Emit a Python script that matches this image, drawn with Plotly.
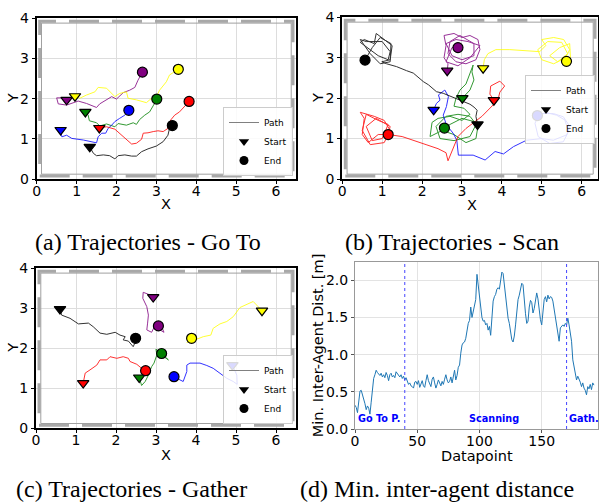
import plotly.graph_objects as go

# The page body margin is removed in the written page (post_script), so figure pixels = page pixels.
PAGE_W, PAGE_H = 599, 503
OFF = 0
W, H = PAGE_W - OFF, PAGE_H - OFF

# ---------------- DATA ----------------
COLORS = ["purple", "yellow", "green", "blue", "red", "black"]

# (a) Go To : paths per agent (x list, y list); first point = start, last point = end
goto_purple_x = [0.75, 0.63, 0.50, 0.54, 0.75, 1.04, 1.25, 1.50, 1.58, 1.75, 1.88, 2.00, 2.17, 2.33, 2.46, 2.54, 2.65]
goto_purple_y = [1.97, 2.02, 2.02, 1.87, 1.84, 1.94, 1.88, 1.78, 1.87, 1.97, 2.05, 1.99, 2.15, 2.21, 2.28, 2.46, 2.66]
goto_yellow_x = [0.96, 1.08, 1.25, 1.46, 1.54, 1.75, 1.96, 2.08, 2.25, 2.29, 2.50, 2.75, 2.88, 3.00, 3.08, 3.25, 3.33, 3.46, 3.55]
goto_yellow_y = [2.06, 2.01, 2.09, 2.17, 2.28, 2.26, 2.05, 2.13, 2.17, 2.01, 1.97, 1.90, 2.01, 2.05, 2.21, 2.42, 2.59, 2.67, 2.73]
goto_green_x = [1.22, 1.29, 1.32, 1.50, 1.58, 1.75, 1.96, 2.04, 2.25, 2.42, 2.50, 2.58, 2.71, 2.83, 2.93, 3.01]
goto_green_y = [1.67, 1.59, 1.45, 1.40, 1.32, 1.37, 1.30, 1.38, 1.34, 1.40, 1.36, 1.48, 1.59, 1.67, 1.84, 1.99]
goto_blue_x = [0.60, 0.63, 0.75, 0.88, 1.17, 1.50, 1.54, 1.63, 1.73, 1.79, 1.88, 1.96, 2.08, 2.21, 2.31]
goto_blue_y = [1.22, 1.05, 1.09, 1.01, 0.97, 0.90, 1.05, 1.14, 1.14, 1.26, 1.34, 1.43, 1.51, 1.59, 1.71]
goto_red_x = [1.57, 1.75, 1.96, 2.13, 2.25, 2.38, 2.50, 2.63, 2.67, 2.79, 2.92, 3.04, 3.17, 3.29, 3.36, 3.46, 3.58, 3.71, 3.82]
goto_red_y = [1.27, 1.30, 1.24, 1.09, 0.97, 0.87, 0.89, 0.99, 1.14, 1.15, 1.18, 1.20, 1.18, 1.26, 1.47, 1.59, 1.67, 1.80, 1.93]
goto_black_x = [1.33, 1.42, 1.50, 1.67, 1.83, 1.96, 2.04, 2.21, 2.38, 2.50, 2.63, 2.79, 3.00, 3.17, 3.29, 3.33, 3.40]
goto_black_y = [0.80, 0.64, 0.58, 0.60, 0.58, 0.50, 0.58, 0.60, 0.57, 0.57, 0.68, 0.75, 0.82, 0.93, 1.09, 1.26, 1.33]

# (b) Scan
scan_purple_x = [2.63, 2.65, 2.55, 2.60, 2.55, 2.80, 3.00, 3.20, 3.40, 3.45, 3.35, 3.10, 2.85, 2.65, 2.70, 2.95, 3.30, 3.30, 3.00, 2.75, 2.60, 2.85, 3.15, 3.45, 3.20, 2.90, 2.60, 2.75, 2.90]
scan_purple_y = [2.68, 2.85, 3.00, 3.30, 3.55, 3.60, 3.50, 3.55, 3.45, 3.20, 2.95, 2.85, 2.90, 3.10, 3.40, 3.55, 3.35, 3.05, 2.95, 3.05, 3.35, 3.45, 3.40, 3.30, 3.00, 2.80, 2.90, 3.25, 3.25]
scan_yellow_x = [3.53, 3.56, 3.65, 3.85, 4.20, 4.60, 4.95, 5.10, 5.00, 5.30, 5.55, 5.70, 5.60, 5.30, 5.00, 4.90, 5.15, 5.50, 5.65, 5.40, 5.20, 5.45, 5.70, 5.72, 5.62]
scan_yellow_y = [2.74, 2.95, 3.10, 3.20, 3.20, 3.18, 3.15, 3.30, 3.45, 3.50, 3.45, 3.20, 3.00, 2.85, 2.95, 3.20, 3.40, 3.38, 3.10, 2.90, 3.05, 3.25, 3.35, 3.00, 2.91]
scan_green_x = [3.01, 3.20, 3.30, 3.25, 3.28, 3.20, 3.10, 2.95, 2.85, 2.80, 3.05, 3.20, 3.00, 2.70, 2.40, 2.25, 2.20, 2.50, 2.80, 3.10, 3.35, 3.40, 3.20, 2.90, 2.60, 2.35, 2.45, 2.80, 3.20, 3.38, 3.00, 2.70, 2.56]
scan_green_y = [2.00, 2.20, 2.45, 2.65, 2.82, 2.60, 2.35, 2.20, 2.00, 1.80, 1.75, 1.60, 1.45, 1.55, 1.50, 1.40, 1.05, 1.20, 1.10, 0.90, 1.00, 1.30, 1.55, 1.60, 1.55, 1.30, 1.00, 0.95, 1.05, 1.40, 1.50, 1.35, 1.26]
scan_blue_x = [2.29, 2.36, 2.45, 2.41, 2.57, 2.66, 2.61, 2.53, 2.61, 2.78, 2.87, 2.91, 3.28, 3.58, 3.83, 4.04, 4.29, 4.62, 5.00, 5.29, 5.62, 5.71, 5.54, 5.29, 4.95, 4.83, 4.91, 5.20, 5.54, 5.67, 5.58, 5.37, 5.12, 4.89]
scan_blue_y = [1.71, 1.87, 1.95, 2.08, 2.20, 2.04, 1.79, 1.58, 1.34, 1.13, 0.96, 0.59, 0.59, 0.47, 0.68, 0.62, 0.80, 0.96, 1.00, 0.96, 1.09, 1.29, 1.54, 1.62, 1.62, 1.38, 1.05, 0.88, 0.92, 1.17, 1.46, 1.58, 1.64, 1.57]
scan_red_x = [3.80, 3.70, 3.72, 3.95, 4.07, 3.95, 3.90, 3.70, 3.50, 3.30, 3.10, 2.90, 2.75, 2.65, 2.60, 2.40, 2.10, 1.80, 1.50, 1.15, 0.90, 0.65, 0.50, 0.55, 0.45, 0.80, 1.05, 1.20, 1.05, 0.70, 0.50, 0.60, 0.90, 1.15, 1.00, 0.75, 0.60, 0.85, 1.20, 1.15]
scan_red_y = [1.95, 2.10, 2.30, 2.42, 2.30, 2.15, 1.95, 1.75, 1.55, 1.40, 1.25, 1.05, 0.70, 0.45, 0.65, 0.75, 0.85, 0.95, 1.05, 1.10, 1.10, 0.90, 1.10, 1.50, 1.65, 1.55, 1.45, 1.20, 0.90, 0.85, 1.20, 1.60, 1.45, 1.35, 1.00, 0.95, 1.30, 1.50, 1.30, 1.10]
scan_black_x = [3.39, 3.35, 3.38, 3.30, 3.20, 2.95, 2.74, 2.53, 2.36, 2.16, 2.03, 1.78, 1.61, 1.36, 1.11, 0.99, 1.20, 1.25, 1.05, 0.85, 0.80, 0.55, 0.45, 0.70, 0.90, 1.15, 1.20, 1.00, 0.60, 0.45, 0.70, 0.95, 1.20, 1.22, 0.95, 0.75, 0.57]
scan_black_y = [1.35, 1.55, 1.70, 1.78, 1.85, 1.95, 2.04, 2.12, 2.16, 2.33, 2.41, 2.62, 2.68, 2.78, 2.85, 2.90, 2.95, 3.30, 3.45, 3.60, 3.35, 3.45, 3.38, 3.20, 3.05, 2.95, 3.15, 3.40, 3.40, 3.45, 3.10, 2.85, 2.90, 3.35, 3.50, 3.25, 2.94]

# (c) Gather
gather_purple_x = [2.93, 2.81, 2.68, 2.67, 2.77, 2.81, 2.79, 2.77, 2.89, 2.95, 3.10, 3.20, 3.14, 3.06]
gather_purple_y = [3.28, 3.35, 3.40, 3.25, 3.04, 2.83, 2.63, 2.46, 2.40, 2.52, 2.46, 2.40, 2.54, 2.56]
gather_yellow_x = [5.65, 5.43, 5.10, 4.93, 4.77, 4.60, 4.43, 4.37, 4.18, 4.10, 3.98, 3.77, 3.89]
gather_yellow_y = [2.94, 3.17, 3.02, 2.79, 2.67, 2.61, 2.50, 2.33, 2.29, 2.25, 2.21, 2.15, 2.25]
gather_green_x = [2.58, 2.64, 2.73, 2.81, 2.89, 2.95, 3.02, 3.00, 3.14, 3.31, 3.14]
gather_green_y = [1.27, 1.07, 1.17, 1.33, 1.54, 1.63, 1.83, 1.98, 1.83, 1.71, 1.87]
gather_blue_x = [4.91, 5.02, 5.03, 4.93, 4.77, 4.60, 4.43, 4.27, 4.10, 3.85, 3.77, 3.77, 3.68, 3.60, 3.52, 3.45]
gather_blue_y = [1.58, 1.33, 1.10, 1.17, 1.25, 1.38, 1.50, 1.57, 1.63, 1.63, 1.58, 1.42, 1.17, 1.21, 1.25, 1.29]
gather_red_x = [1.18, 1.23, 1.35, 1.52, 1.60, 1.77, 1.85, 2.02, 2.18, 2.31, 2.35, 2.52, 2.64, 2.74]
gather_red_y = [1.13, 1.38, 1.46, 1.58, 1.71, 1.71, 1.79, 1.75, 1.79, 1.75, 1.67, 1.60, 1.50, 1.44]
gather_black_x = [0.60, 0.64, 0.85, 1.06, 1.31, 1.43, 1.60, 1.77, 1.98, 2.10, 2.23, 2.18, 2.31, 2.43, 2.48, 2.49]
gather_black_y = [2.98, 2.83, 2.75, 2.61, 2.63, 2.54, 2.38, 2.35, 2.40, 2.33, 2.29, 2.21, 2.18, 2.04, 2.15, 2.25]

# (d) Min inter-agent distance per datapoint
min_dist = [
    0.32, 0.29, 0.22, 0.42, 0.51, 0.52, 0.47, 0.40, 0.34, 0.26,
    0.31, 0.28, 0.20, 0.36, 0.58, 0.68, 0.73, 0.79, 0.76, 0.73,
    0.72, 0.75, 0.70, 0.73, 0.69, 0.76, 0.72, 0.65, 0.73, 0.75,
    0.70, 0.72, 0.69, 0.77, 0.74, 0.71, 0.70, 0.73, 0.68, 0.71,
    0.66, 0.69, 0.63, 0.60, 0.62, 0.58, 0.57, 0.55, 0.63, 0.64,
    0.60, 0.65, 0.56, 0.60, 0.65, 0.58, 0.56, 0.65, 0.73, 0.65,
    0.60, 0.57, 0.67, 0.70, 0.62, 0.55, 0.60, 0.66, 0.62, 0.58,
    0.64, 0.60, 0.67, 0.73, 0.66, 0.62, 0.64, 0.70, 0.62, 0.69,
    0.79, 0.66, 0.72, 0.83, 0.86, 1.02, 1.13, 1.16, 1.17, 1.22,
    1.35, 1.42, 1.46, 1.64, 1.50, 1.57, 1.63, 1.74, 2.08, 1.95,
    1.80, 1.67, 1.50, 1.45, 1.46, 1.40, 1.42, 1.33, 1.38, 1.26,
    1.45, 1.72, 1.78, 1.81, 1.88, 1.90, 1.88, 2.04, 2.11, 2.09,
    1.94, 1.72, 1.56, 1.49, 1.42, 1.30, 1.20, 1.17, 1.25, 1.40,
    1.60, 1.74, 1.80, 1.88, 1.96, 1.94, 1.70, 1.55, 1.42, 1.45,
    1.64, 1.73, 1.70, 1.56, 1.62, 1.76, 1.83, 1.75, 1.58, 1.47,
    1.40, 1.62, 1.74, 1.78, 1.71, 1.80, 1.75, 1.78, 1.77, 1.72,
    1.60, 1.50, 1.35, 1.25, 1.18, 1.36, 1.38, 1.40, 1.38, 1.42,
    1.40, 1.49, 1.40, 1.31, 1.18, 0.93, 0.84, 0.75, 0.66, 0.71,
    0.68, 0.63, 0.57, 0.62, 0.55, 0.52, 0.46, 0.57, 0.54, 0.60,
    0.53, 0.62, 0.59,
]
phase_bounds = [40, 170]
phase_labels = ["Go To P.", "Scanning", "Gath."]
phase_label_x = [2, 112, 170.8]
phase_label_anchor = ["left", "center", "left"]

captions = ["(a) Trajectories - Go To", "(b) Trajectories - Scan",
            "(c) Trajectories - Gather", "(d) Min. inter-agent distance"]
x_titles = ["X", "X", "X", "Datapoint"]
y_titles = ["Y", "Y", "Y", "Min. Inter-Agent Dist. [m]"]

goto_paths = {c: (globals()[f"goto_{c}_x"], globals()[f"goto_{c}_y"]) for c in COLORS}
scan_paths = {c: (globals()[f"scan_{c}_x"], globals()[f"scan_{c}_y"]) for c in COLORS}
gather_paths = {c: (globals()[f"gather_{c}_x"], globals()[f"gather_{c}_y"]) for c in COLORS}

# ---------------- LAYOUT HELPERS (page pixels -> paper fractions) ----------------
def fx(px):
    return (px - OFF) / W

def fy(py):
    return 1 - (py - OFF) / H

def px_dom_x(a, b):
    return [fx(a), fx(b)]

def px_dom_y(top, bottom):
    return [fy(bottom), fy(top)]

panels = {
    "a": dict(xd=px_dom_x(36.7, 296), yd=px_dom_y(18.3, 179), xr=[0, 6.5]),
    "b": dict(xd=px_dom_x(342.3, 598), yd=px_dom_y(17.3, 179), xr=[0, 6.41]),
    "c": dict(xd=px_dom_x(36, 296), yd=px_dom_y(268.3, 428.3), xr=[0, 6.5]),
}

fig = go.Figure()
TICKFONT = dict(family="DejaVu Sans", size=14, color="black")
TITLEFONT = dict(family="DejaVu Sans", size=14.5, color="black")

def add_traj(paths, xa, ya, legend):
    for c, (xs, ys) in paths.items():
        fig.add_trace(go.Scatter(x=xs, y=ys, mode="lines", xaxis=xa, yaxis=ya,
                                 line=dict(color=c, width=1), opacity=0.8,
                                 showlegend=False, hoverinfo="skip"))
    for c, (xs, ys) in paths.items():
        fig.add_trace(go.Scatter(x=[xs[0]], y=[ys[0]], mode="markers", xaxis=xa, yaxis=ya,
                                 marker=dict(symbol="triangle-down", size=10, color=c,
                                             line=dict(color="black", width=1.2)),
                                 showlegend=False))
        fig.add_trace(go.Scatter(x=[xs[-1]], y=[ys[-1]], mode="markers", xaxis=xa, yaxis=ya,
                                 marker=dict(symbol="circle", size=10, color=c,
                                             line=dict(color="black", width=1.2)),
                                 showlegend=False))
    # legend entries
    fig.add_trace(go.Scatter(x=[None], y=[None], mode="lines", xaxis=xa, yaxis=ya,
                             line=dict(color="gray", width=1), name="Path", legend=legend))
    fig.add_trace(go.Scatter(x=[None], y=[None], mode="markers", xaxis=xa, yaxis=ya,
                             marker=dict(symbol="triangle-down", size=9, color="black"),
                             name="Start", legend=legend))
    fig.add_trace(go.Scatter(x=[None], y=[None], mode="markers", xaxis=xa, yaxis=ya,
                             marker=dict(symbol="circle", size=9, color="black"),
                             name="End", legend=legend))

add_traj(goto_paths, "x", "y", "legend")
add_traj(scan_paths, "x2", "y2", "legend2")
add_traj(gather_paths, "x3", "y3", "legend3")

# panel d
fig.add_trace(go.Scatter(x=list(range(len(min_dist))), y=min_dist, mode="lines",
                         xaxis="x4", yaxis="y4", line=dict(color="#1f77b4", width=1),
                         showlegend=False))

layout = dict(width=W, height=H, margin=dict(l=0, r=0, t=0, b=0, autoexpand=False),
              plot_bgcolor="white", paper_bgcolor="white", showlegend=True)

traj_axes = [("a", "xaxis", "yaxis", "x", "y"),
             ("b", "xaxis2", "yaxis2", "x2", "y2"),
             ("c", "xaxis3", "yaxis3", "x3", "y3")]
shapes = []
for key, xk, yk, xr_, yr_ in traj_axes:
    p = panels[key]
    layout[xk] = dict(domain=p["xd"], range=p["xr"], anchor=yr_, tickvals=[0, 1, 2, 3, 4, 5, 6],
                      showline=True, linecolor="black", linewidth=2, mirror=True,
                      ticks="outside", ticklen=3, tickcolor="black", tickfont=TICKFONT,
                      ticklabelstandoff=-5,
                      showgrid=True, gridcolor="#dddddd", gridwidth=1, zeroline=False,
                      automargin=False)
    layout[yk] = dict(domain=p["yd"], range=[0, 4], anchor=xr_, tickvals=[0, 1, 2, 3, 4],
                      showline=True, linecolor="black", linewidth=2, mirror=True,
                      ticks="outside", ticklen=3, tickcolor="black", tickfont=TICKFONT,
                      showgrid=True, gridcolor="#dddddd", gridwidth=1, zeroline=False,
                      automargin=False)
    xmax = p["xr"][1]
    for inset, width, dash, col in [(0.075, 3, "30px,13px", "#a8a8a8"), (0.12, 1, "solid", "#a0a0a0")]:
        shapes.append(dict(type="rect", xref=xr_, yref=yr_, x0=inset, x1=xmax - inset,
                           y0=inset, y1=4 - inset, line=dict(color=col, width=width, dash=dash),
                           layer="above"))

layout["xaxis4"] = dict(domain=px_dom_x(355, 597.7), range=[0, 195], anchor="y4",
                        tickvals=[0, 50, 100, 150], showline=True, linecolor="#999999",
                        linewidth=1, mirror=True, ticks="outside", ticklen=3, tickcolor="#555",
                        tickfont=TICKFONT, ticklabelstandoff=-4,
                        showgrid=True, gridcolor="#e3e3e3", zeroline=False,
                        automargin=False)
layout["yaxis4"] = dict(domain=px_dom_y(261.7, 429), range=[0, 2.25], anchor="x4",
                        tickvals=[0, 0.5, 1.0, 1.5, 2.0], ticktext=["0.0", "0.5", "1.0", "1.5", "2.0"],
                        showline=True, linecolor="#999999", linewidth=1, mirror=True,
                        ticks="outside", ticklen=3, tickcolor="#555", tickfont=TICKFONT,
                        showgrid=True, gridcolor="#e3e3e3", zeroline=False,
                        automargin=False)

for b in phase_bounds:
    shapes.append(dict(type="line", xref="x4", yref="y4 domain", x0=b, x1=b, y0=0, y1=1,
                       line=dict(color="#4444ff", width=1, dash="dot")))
layout["shapes"] = shapes

annotations = []
for t, xv, anc in zip(phase_labels, phase_label_x, phase_label_anchor):
    annotations.append(dict(text="<b>%s</b>" % t, x=xv, y=0.14, xref="x4", yref="y4",
                            xanchor=anc, yanchor="middle", showarrow=False, borderpad=0,
                            font=dict(family="DejaVu Sans", size=9.7, color="blue")))
cap_pos = [(148, 242), (452, 242), (131, 489), (437, 489)]
for t, (cx, cy) in zip(captions, cap_pos):
    annotations.append(dict(text=t, x=fx(cx), y=fy(cy), xref="paper", yref="paper",
                            xanchor="center", yanchor="middle", showarrow=False,
                            font=dict(family="Liberation Serif", size=24, color="black")))
# axis titles (placed as text in page positions)
xt_pos = [(166, 204), (471.5, 205), (166, 455), (476.5, 456)]
yt_pos = [(13.3, 98), (318, 98), (12.7, 348), (318.3, 345)]
for t, (cx, cy) in zip(x_titles, xt_pos):
    annotations.append(dict(text=t, x=fx(cx), y=fy(cy), xref="paper", yref="paper",
                            xanchor="center", yanchor="middle", showarrow=False, font=TITLEFONT))
for t, (cx, cy) in zip(y_titles, yt_pos):
    annotations.append(dict(text=t, x=fx(cx), y=fy(cy), xref="paper", yref="paper",
                            xanchor="center", yanchor="middle", showarrow=False,
                            textangle=-90, font=TITLEFONT))
layout["annotations"] = annotations

legend_common = dict(font=dict(family="DejaVu Sans", size=9, color="black"),
                     bgcolor="rgba(255,255,255,0.85)", bordercolor="#cccccc", borderwidth=1,
                     itemwidth=30, tracegroupgap=0)
layout["legend"] = dict(legend_common, x=fx(293), y=fy(176), xanchor="right", yanchor="bottom")
layout["legend2"] = dict(legend_common, x=fx(595), y=fy(75), xanchor="right", yanchor="top")
layout["legend3"] = dict(legend_common, x=fx(293), y=fy(424), xanchor="right", yanchor="bottom")

fig.update_layout(**layout)
fig.write_html("out.html", config={"displayModeBar": False},
               post_script="document.body.style.margin='0';document.body.style.overflow='hidden';")
